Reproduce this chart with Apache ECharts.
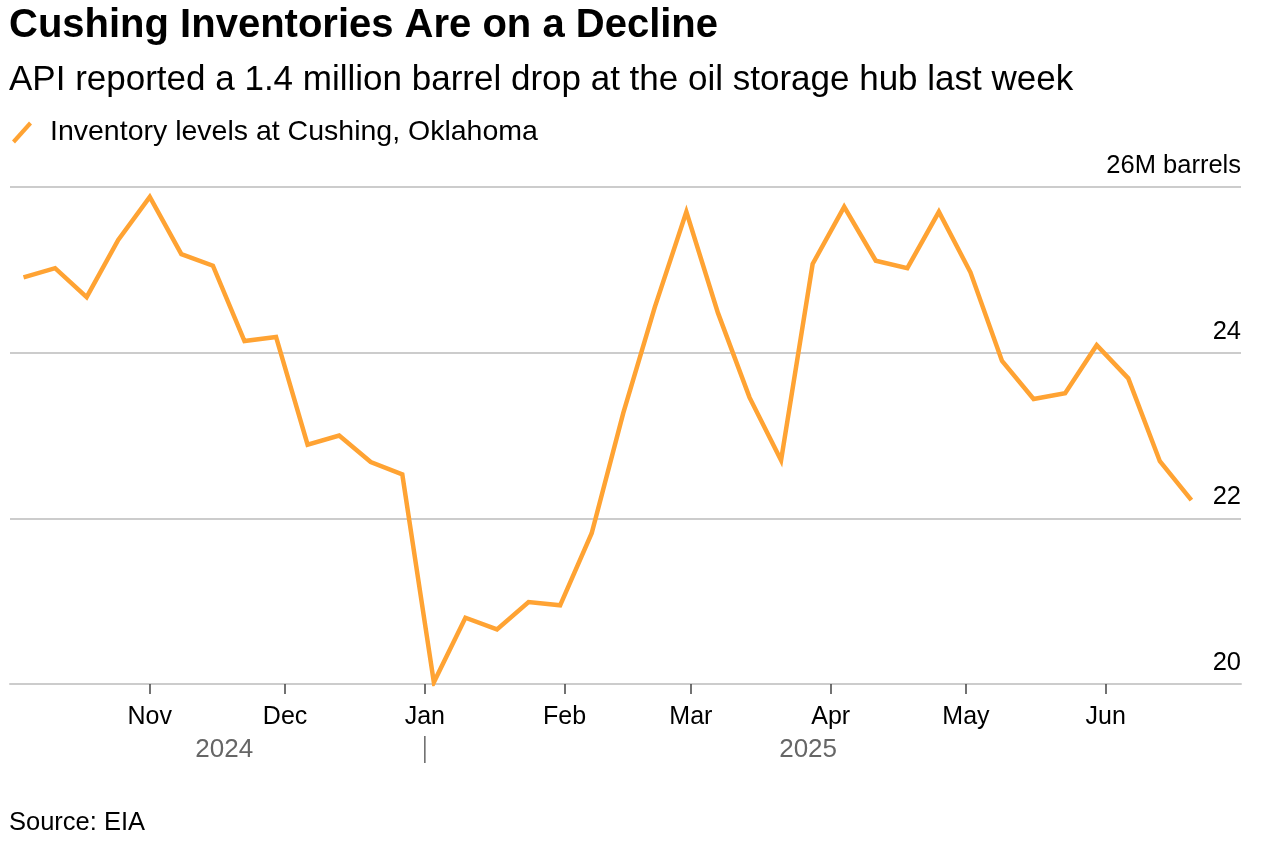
<!DOCTYPE html>
<html><head><meta charset="utf-8">
<script src="https://cdn.jsdelivr.net/npm/echarts@6/dist/echarts.min.js"></script>
<style>html,body{margin:0;padding:0;background:#fff}#c{width:1271px;height:853px}</style>
</head><body><div id="c"></div>
<script>
const dates = ['2024-10-04','2024-10-11','2024-10-18','2024-10-25','2024-11-01','2024-11-08','2024-11-15','2024-11-22','2024-11-29',
  '2024-12-06','2024-12-13','2024-12-20','2024-12-27','2025-01-03','2025-01-10','2025-01-17','2025-01-24','2025-01-31',
  '2025-02-07','2025-02-14','2025-02-21','2025-02-28','2025-03-07','2025-03-14','2025-03-21','2025-03-28',
  '2025-04-04','2025-04-11','2025-04-18','2025-04-25','2025-05-02','2025-05-09','2025-05-16','2025-05-23','2025-05-30',
  '2025-06-06','2025-06-13','2025-06-20'];
const inventory = [24.91,25.02,24.67,25.36,25.88,25.19,25.05,24.14,24.19,
  22.89,23.00,22.68,22.53,20.02,20.80,20.66,20.99,20.95,
  21.82,23.27,24.55,25.70,24.48,23.46,22.70,25.07,
  25.76,25.11,25.02,25.70,24.97,23.90,23.44,23.51,24.09,
  23.69,22.69,22.22];
const monthTicks = ['2024-11-01','2024-12-01','2025-01-01','2025-02-01','2025-03-01','2025-04-01','2025-05-01','2025-06-01'];
const monthLabels = ['Nov','Dec','Jan','Feb','Mar','Apr','May','Jun'];
const yearLabels = ['2024','2025'];
const yearBreak = '2025-01-01';
const axisStart = '2024-10-01';
const axisEnd = '2025-07-01';
const yTicks = [20,22,24,26];
const seriesName = 'Inventory levels at Cushing, Oklahoma';

const FONT = '"Liberation Sans", Arial, sans-serif';
const ts = s => new Date(s + 'T00:00:00Z').getTime();
const chart = echarts.init(document.getElementById('c'), null, {renderer:'canvas'});
const tickTs = monthTicks.map(ts);

chart.setOption({
  animation: false,
  backgroundColor: '#fff',
  textStyle: {fontFamily: FONT},
  title: [
    {text: 'Cushing Inventories Are on a Decline', left: 4, top: 1,
     textStyle: {fontFamily: FONT, fontSize: 40, fontWeight: 'bold', color: '#000'}},
    {text: 'API reported a 1.4 million barrel drop at the oil storage hub last week', left: 4, top: 58,
     textStyle: {fontFamily: FONT, fontSize: 35, fontWeight: 'normal', color: '#000'}},
    {text: 'Source: EIA', left: 4, top: 805,
     textStyle: {fontFamily: FONT, fontSize: 25.5, fontWeight: 'normal', color: '#000'}}
  ],
  legend: {
    left: 7, top: 113, itemWidth: 22, itemHeight: 22, itemGap: 10,
    icon: 'path://M0,19 L17,0 L20,3 L3,22 Z',
    textStyle: {fontFamily: FONT, fontSize: 28.5, color: '#000', padding: [0,0,0,12]},
    data: [seriesName]
  },
  grid: {left: 10, right: 30, top: 187, bottom: 169, containLabel: false},
  xAxis: {
    type: 'value', min: ts(axisStart), max: ts(axisEnd),
    axisLine: {show: true, lineStyle: {color: '#cccccc', width: 2}},
    axisTick: {show: true, customValues: tickTs, length: 10, lineStyle: {color: '#444', width: 1.5}},
    axisLabel: {show: true, customValues: tickTs, margin: 21, fontFamily: FONT, fontSize: 25, color: '#000',
      formatter: v => { const i = tickTs.indexOf(v); return i >= 0 ? monthLabels[i] : ''; }},
    splitLine: {show: false}
  },
  yAxis: {
    type: 'value', position: 'right', min: yTicks[0], max: yTicks[yTicks.length-1], interval: 2,
    axisLine: {show: false}, axisTick: {show: false},
    splitLine: {show: true, lineStyle: {color: '#cccccc', width: 2}},
    axisLabel: {inside: true, margin: 0, fontFamily: FONT, fontSize: 25.5, color: '#000',
      verticalAlign: 'bottom', padding: [0,0,8,0],
      formatter: v => v === yTicks[yTicks.length-1] ? v + 'M barrels' : String(v)}
  },
  series: [{
    name: seriesName, type: 'line', showSymbol: false, symbol: 'none',
    color: '#FFA333',
    lineStyle: {color: '#FFA333', width: 4.5, join: 'miter'},
    data: dates.map((d, i) => [ts(d), inventory[i]])
  }]
});

const xOf = s => chart.convertToPixel({xAxisIndex: 0}, ts(s));
const firstX = xOf(dates[0]), lastX = xOf(dates[dates.length-1]), breakX = xOf(yearBreak);
chart.setOption({
  graphic: [
    {type: 'text', x: (firstX + breakX)/2, y: 737, style: {text: yearLabels[0], font: '26px ' + FONT, fill: '#666', align: 'center'}},
    {type: 'text', x: (breakX + lastX)/2, y: 737, style: {text: yearLabels[1], font: '26px ' + FONT, fill: '#666', align: 'center'}},
    {type: 'line', shape: {x1: breakX, y1: 736, x2: breakX, y2: 763}, style: {stroke: '#666', lineWidth: 1.5}}
  ]
});
</script></body></html>
